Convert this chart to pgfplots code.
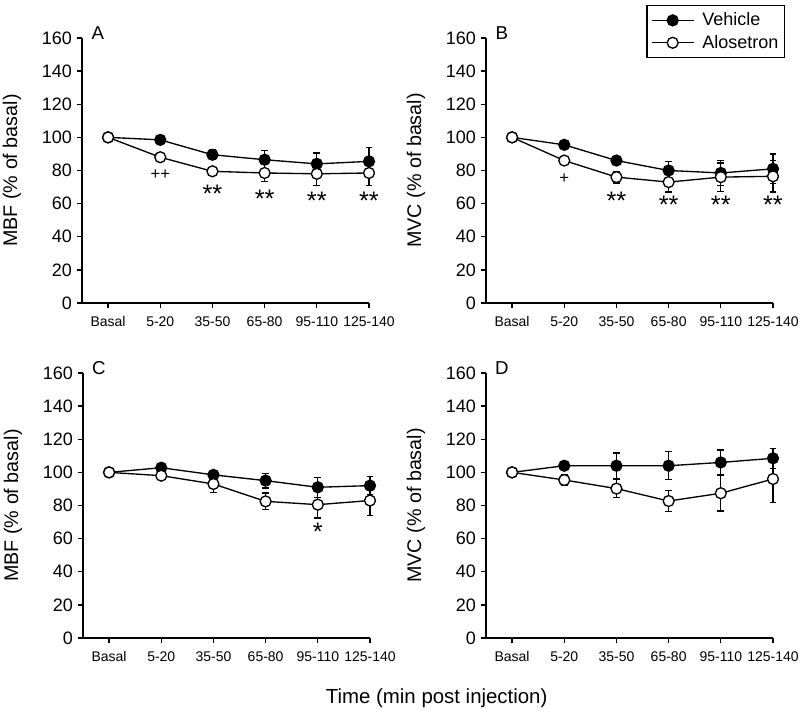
\documentclass[border=0pt]{standalone}
\usepackage{pgfplots}
\usepackage{pgfplotstable}
\pgfplotsset{compat=1.18}
\usepackage{fontspec}
\setmainfont{Liberation Sans}

\pgfplotstableread{
x y e
0 100 0
1 98.5 1
2 89.5 3
3 86.5 5.5
4 84 6.5
5 85.5 8.5
}\AVeh
\pgfplotstableread{
x y e
0 100 0
1 88 1
2 79.5 1.5
3 78.5 5
4 78 7
5 78.5 7.5
}\AAlo
\pgfplotstableread{
x y e
0 100 0
1 95.5 1.5
2 86 2
3 80 5.5
4 78.5 7.5
5 81 9
}\BVeh
\pgfplotstableread{
x y e
0 100 0
1 86 2
2 76 3.5
3 73 6
4 76 8.5
5 76.5 9.5
}\BAlo
\pgfplotstableread{
x y e
0 100 0
1 102.8 1
2 98.5 1.5
3 95 4.5
4 91 6
5 92 5.5
}\CVeh
\pgfplotstableread{
x y e
0 100 0
1 98 1
2 93 5
3 82.5 5
4 80.5 8
5 83 9
}\CAlo
\pgfplotstableread{
x y e
0 100 0
1 104 2
2 104 7.7
3 104 8.5
4 106 7.5
5 108.5 6
}\DVeh
\pgfplotstableread{
x y e
0 100 0
1 95.4 3.5
2 90.2 5.5
3 82.7 6.5
4 87.4 10.7
5 96 14
}\DAlo

\pgfplotsset{
 panel/.style={
  scale only axis, width=215.25pt, height=198.75pt,
  xmin=-0.5, xmax=5, ymin=0, ymax=160,
  axis lines=left, axis line style={-, line width=1pt},
  xtick={0,...,5}, xticklabels={Basal,5-20,35-50,65-80,95-110,125-140},
  ytick={0,20,...,160},
  tick align=outside, major tick length=4pt,
  every tick/.style={black, line width=1pt},
  x tick label style={font=\fontsize{10.5}{11}\selectfont, yshift=-2.5pt},
  y tick label style={font=\fontsize{13.5}{14}\selectfont},
  /pgf/number format/assume math mode=true,
  clip=false,
  every axis y label/.style={at={(axis description cs:-0.244,0.5)}, anchor=center, rotate=90, font=\fontsize{14.8}{16}\selectfont},
  error bars/y dir=both, error bars/y explicit,
  error bars/error bar style={line width=1pt, black},
  error bars/error mark options={rotate=90, mark size=2.6pt, line width=1pt, black},
 },
 veh/.style={black, line width=1pt, mark=*, mark size=4.1pt, mark options={fill=black}},
 alo/.style={black, line width=1pt, mark=*, mark size=4.1pt, mark options={fill=white}},
}
\newcommand{\starfont}{\fontsize{19}{20}\selectfont}
\newcommand{\plusfont}{\fontsize{12.5}{13}\selectfont}
\newcommand{\letterfont}{\fontsize{14}{15}\selectfont}

\begin{document}
\begin{tikzpicture}
\path[use as bounding box] (0,0) rectangle (600pt,535.5pt);

% Panel A
\begin{axis}[panel, at={(61.5pt,308.25pt)}, anchor=south west, ylabel={MBF (\% of basal)}]
\addplot[veh] table[x=x,y=y,y error=e] {\AVeh};
\addplot[alo] table[x=x,y=y,y error=e] {\AAlo};
\node[font=\letterfont] at (rel axis cs:0.055,1.02) {A};
\node[font=\plusfont] at (axis cs:1,77.5) {++};
\node[font=\starfont] at (axis cs:2,66) {**};
\node[font=\starfont] at (axis cs:3,63) {**};
\node[font=\starfont] at (axis cs:4,62) {**};
\node[font=\starfont] at (axis cs:5,62) {**};
\end{axis}

% Panel B
\begin{axis}[panel, at={(364.5pt,308.25pt)}, anchor=south west, ylabel={MVC (\% of basal)},
  legend style={at={(1.042,1.125)}, anchor=north east, draw=black, line width=1pt,
    font=\fontsize{13.5}{15}\selectfont, row sep=2.5pt, inner xsep=3pt, inner ysep=4pt,
    nodes={inner sep=1.5pt}},
  legend cell align=left,
  legend image code/.code={\draw[mark repeat=2,mark phase=2,#1] plot coordinates {(0pt,0pt) (15.75pt,0pt) (31.5pt,0pt)}; \path (36pt,0pt);}]
\addplot[veh] table[x=x,y=y,y error=e] {\BVeh};
\addlegendentry{Vehicle}
\addplot[alo] table[x=x,y=y,y error=e] {\BAlo};
\addlegendentry{Alosetron}
\node[font=\letterfont] at (rel axis cs:0.055,1.02) {B};
\node[font=\plusfont] at (axis cs:1,75) {+};
\node[font=\starfont] at (axis cs:2,62) {**};
\node[font=\starfont] at (axis cs:3,59) {**};
\node[font=\starfont] at (axis cs:4,59) {**};
\node[font=\starfont] at (axis cs:5,59) {**};
\end{axis}

% Panel C
\begin{axis}[panel, at={(62.25pt,57pt)}, anchor=south west, ylabel={MBF (\% of basal)}]
\addplot[veh] table[x=x,y=y,y error=e] {\CVeh};
\addplot[alo] table[x=x,y=y,y error=e] {\CAlo};
\node[font=\letterfont] at (rel axis cs:0.055,1.02) {C};
\node[font=\starfont] at (axis cs:4,64) {*};
\end{axis}

% Panel D
\begin{axis}[panel, at={(364.5pt,57pt)}, anchor=south west, ylabel={MVC (\% of basal)}]
\addplot[veh] table[x=x,y=y,y error=e] {\DVeh};
\addplot[alo] table[x=x,y=y,y error=e] {\DAlo};
\node[font=\letterfont] at (rel axis cs:0.055,1.02) {D};
\end{axis}

\node[font=\fontsize{15.3}{17}\selectfont] at (327.5pt,11.5pt) {Time (min post injection)};
\end{tikzpicture}
\end{document}
